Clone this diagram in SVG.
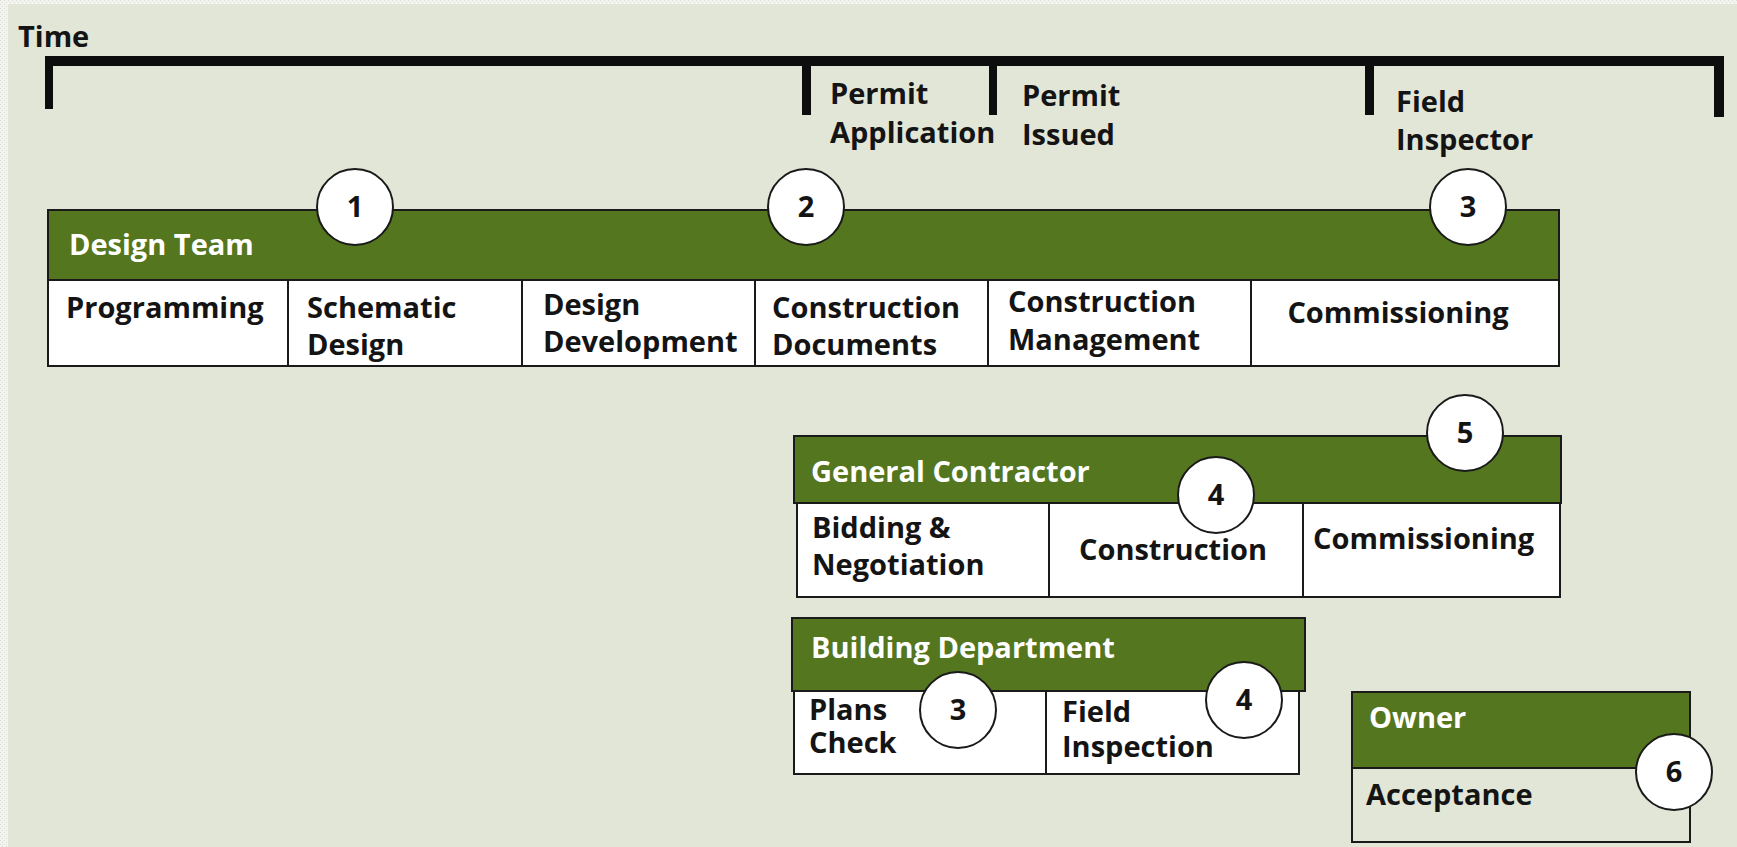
<svg xmlns="http://www.w3.org/2000/svg" width="1737" height="847" viewBox="0 0 1737 847">
  <style>
    .t { font-family: "Open Sans", "Liberation Sans", sans-serif; font-weight: 700; font-size: 29px; fill: #141414; }
    .h { font-family: "Open Sans", "Liberation Sans", sans-serif; font-weight: 700; font-size: 29px; fill: #ffffff; }
    .n { font-family: "Open Sans", "Liberation Sans", sans-serif; font-weight: 700; font-size: 29px; fill: #141414; text-anchor: middle; }
    .head { fill: #54761f; stroke: #1a1a1a; stroke-width: 2; }
    .cell { fill: #ffffff; stroke: #1a1a1a; stroke-width: 2; }
    .div { stroke: #1a1a1a; stroke-width: 2; }
    .badge { fill: #ffffff; stroke: #1a1a1a; stroke-width: 2; }
    .bar { fill: #0d0d0d; }
  </style>
  <defs>
    <pattern id="grain" width="4" height="4" patternUnits="userSpaceOnUse">
      <rect width="4" height="4" fill="#f3f4f0"/>
      <rect x="0" y="0" width="1" height="1" fill="#dcdcd8"/>
      <rect x="2" y="2" width="1" height="1" fill="#dcdcd8"/>
    </pattern>
  </defs>

  <!-- page -->
  <rect width="1737" height="847" fill="url(#grain)"/>
  <rect x="8" y="4" width="1729" height="843" fill="#e1e6d7"/>

  <!-- time axis -->
  <g id="timeline">
    <text class="t" x="18" y="47">Time</text>
    <rect class="bar" x="45" y="56" width="1679" height="10"/>
    <rect class="bar" x="45" y="56" width="8" height="53"/>
    <rect class="bar" x="802" y="56" width="9" height="59"/>
    <rect class="bar" x="989" y="56" width="8" height="59"/>
    <rect class="bar" x="1365" y="56" width="9" height="59"/>
    <rect class="bar" x="1714" y="56" width="10" height="61"/>
    <text class="t" x="830" y="104">Permit</text>
    <text class="t" x="830" y="143">Application</text>
    <text class="t" x="1022" y="106">Permit</text>
    <text class="t" x="1022" y="145">Issued</text>
    <text class="t" x="1396" y="112">Field</text>
    <text class="t" x="1396" y="150">Inspector</text>
  </g>

  <!-- design team -->
  <g id="design-team">
    <rect class="head" x="48" y="210" width="1511" height="70"/>
    <rect class="cell" x="48" y="280" width="1511" height="86"/>
    <line class="div" x1="288" y1="280" x2="288" y2="366"/>
    <line class="div" x1="522" y1="280" x2="522" y2="366"/>
    <line class="div" x1="755" y1="280" x2="755" y2="366"/>
    <line class="div" x1="988" y1="280" x2="988" y2="366"/>
    <line class="div" x1="1251" y1="280" x2="1251" y2="366"/>
    <text class="h" x="69" y="255">Design Team</text>
    <text class="t" x="66" y="318">Programming</text>
    <text class="t" x="307" y="318">Schematic</text>
    <text class="t" x="307" y="355">Design</text>
    <text class="t" x="543" y="315">Design</text>
    <text class="t" x="543" y="352">Development</text>
    <text class="t" x="772" y="318">Construction</text>
    <text class="t" x="772" y="355">Documents</text>
    <text class="t" x="1008" y="312">Construction</text>
    <text class="t" x="1008" y="350">Management</text>
    <text class="n" x="1398" y="323">Commissioning</text>
  </g>

  <!-- general contractor -->
  <g id="general-contractor">
    <rect class="head" x="794" y="436" width="767" height="67"/>
    <rect class="cell" x="797" y="503" width="763" height="94"/>
    <line class="div" x1="1049" y1="503" x2="1049" y2="597"/>
    <line class="div" x1="1303" y1="503" x2="1303" y2="597"/>
    <text class="h" x="811" y="482">General Contractor</text>
    <text class="t" x="812" y="538">Bidding &amp;</text>
    <text class="t" x="812" y="575">Negotiation</text>
    <text class="n" x="1173" y="560">Construction</text>
    <text class="t" x="1313" y="549">Commissioning</text>
  </g>

  <!-- building department -->
  <g id="building-department">
    <rect class="cell" x="794" y="691" width="505" height="83"/>
    <rect class="head" x="792" y="618" width="513" height="73"/>
    <line class="div" x1="1046" y1="691" x2="1046" y2="774"/>
    <text class="h" x="811" y="658">Building Department</text>
    <text class="t" x="809" y="720">Plans</text>
    <text class="t" x="809" y="753">Check</text>
    <text class="t" x="1062" y="722">Field</text>
    <text class="t" x="1062" y="757">Inspection</text>
  </g>

  <!-- owner -->
  <g id="owner">
    <rect x="1352" y="768" width="338" height="74" fill="#e1e6d7" stroke="#1a1a1a" stroke-width="2"/>
    <rect class="head" x="1352" y="692" width="338" height="76"/>
    <text class="h" x="1369" y="728">Owner</text>
    <text class="t" x="1366" y="805">Acceptance</text>
  </g>

  <!-- numbered steps -->
  <g id="step-1"><circle class="badge" cx="355" cy="207" r="38"/><text class="n" x="355" y="217">1</text></g>
  <g id="step-2"><circle class="badge" cx="806" cy="207" r="38"/><text class="n" x="806" y="217">2</text></g>
  <g id="step-3-field"><circle class="badge" cx="1468" cy="207" r="38"/><text class="n" x="1468" y="217">3</text></g>
  <g id="step-5"><circle class="badge" cx="1465" cy="433" r="38"/><text class="n" x="1465" y="443">5</text></g>
  <g id="step-4-construction"><circle class="badge" cx="1216" cy="495" r="38"/><text class="n" x="1216" y="505">4</text></g>
  <g id="step-3-plans"><circle class="badge" cx="958" cy="710" r="38"/><text class="n" x="958" y="720">3</text></g>
  <g id="step-4-inspection"><circle class="badge" cx="1244" cy="700" r="38"/><text class="n" x="1244" y="710">4</text></g>
  <g id="step-6"><circle class="badge" cx="1674" cy="772" r="38"/><text class="n" x="1674" y="782">6</text></g>
</svg>
